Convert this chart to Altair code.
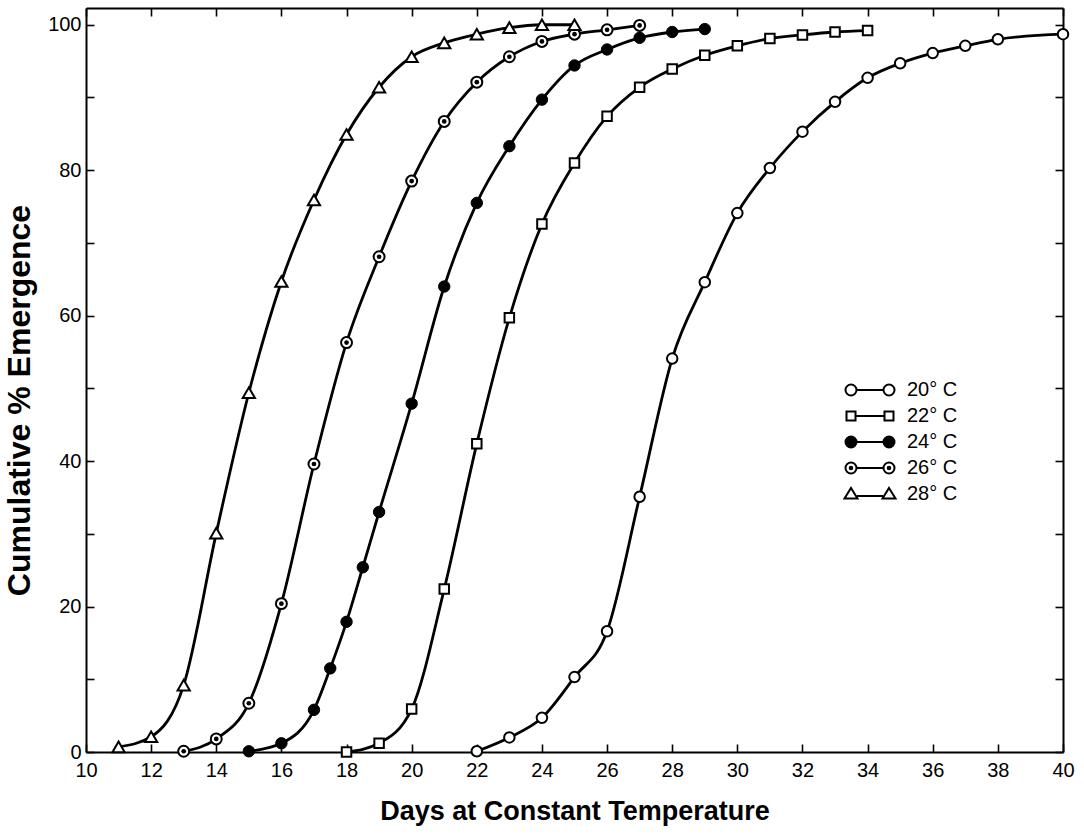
import altair as alt
import pandas as pd

# ---------------- data ----------------
SERIES = ["20° C", "22° C", "24° C", "26° C", "28° C"]

DAYS_20 = [22, 23, 24, 25, 26, 27, 28, 29, 30, 31, 32, 33, 34, 35, 36, 37, 38, 40]
PCT_20 = [0.1, 2.0, 4.7, 10.3, 16.6, 35.1, 54.1, 64.6, 74.1, 80.3, 85.3, 89.4, 92.7, 94.7, 96.1, 97.1, 98.0, 98.7]

DAYS_22 = [18, 19, 20, 21, 22, 23, 24, 25, 26, 27, 28, 29, 30, 31, 32, 33, 34]
PCT_22 = [0.0, 1.2, 5.9, 22.4, 42.4, 59.7, 72.6, 81.0, 87.4, 91.4, 93.9, 95.8, 97.1, 98.1, 98.6, 99.0, 99.2]

DAYS_24 = [15, 16, 17, 17.5, 18, 18.5, 19, 20, 21, 22, 23, 24, 25, 26, 27, 28, 29]
PCT_24 = [0.1, 1.2, 5.8, 11.5, 17.9, 25.4, 33.0, 47.9, 64.0, 75.5, 83.3, 89.7, 94.4, 96.6, 98.2, 99.0, 99.4]

DAYS_26 = [13, 14, 15, 16, 17, 18, 19, 20, 21, 22, 23, 24, 25, 26, 27]
PCT_26 = [0.1, 1.8, 6.7, 20.4, 39.6, 56.3, 68.1, 78.5, 86.7, 92.1, 95.6, 97.7, 98.7, 99.3, 99.9]

DAYS_28 = [11, 12, 13, 14, 15, 16, 17, 18, 19, 20, 21, 22, 23, 24, 25]
PCT_28 = [0.7, 2.1, 9.2, 30.1, 49.4, 64.7, 75.9, 84.9, 91.4, 95.6, 97.5, 98.7, 99.6, 100.0, 100.0]

X_TICKS = [10, 12, 14, 16, 18, 20, 22, 24, 26, 28, 30, 32, 34, 36, 38, 40]
Y_LABELS = [0, 20, 40, 60, 80, 100]
Y_TICKS = [0, 10, 20, 30, 40, 50, 60, 70, 80, 90, 100]

rows = []
for name, days, pct in zip(SERIES, [DAYS_20, DAYS_22, DAYS_24, DAYS_26, DAYS_28],
                           [PCT_20, PCT_22, PCT_24, PCT_26, PCT_28]):
    for d, p in zip(days, pct):
        rows.append({"series": name, "day": d, "pct": p})
df = pd.DataFrame(rows)

# ---------------- layout / style ----------------
W, H = 977, 744
XDOM = [10, 40]
YDOM = [0, 102.3]
FONT = "Liberation Sans"

xs = alt.Scale(domain=XDOM, nice=False, zero=False)
ys = alt.Scale(domain=YDOM, nice=False, zero=False)


def X(axis):
    return alt.X("day:Q", scale=xs, axis=axis)


def Y(axis):
    return alt.Y("pct:Q", scale=ys, axis=axis)


tick_style = dict(ticks=True, tickSize=8, tickWidth=1.6, tickColor="black",
                  labels=False, grid=False, title=None)

axis_x_main = alt.Axis(orient="bottom", values=X_TICKS, ticks=False, grid=False,
                       domain=True, domainColor="black", domainWidth=2,
                       labelFont=FONT, labelFontSize=20, labelColor="black",
                       labelPadding=8, labelFlush=False, labelOverlap=False,
                       title="Days at Constant Temperature", titleFont=FONT,
                       titleFontSize=27, titleFontWeight="bold", titleColor="black",
                       titlePadding=18)
axis_y_main = alt.Axis(orient="left", values=Y_LABELS, ticks=False, grid=False,
                       domain=True, domainColor="black", domainWidth=2,
                       labelFont=FONT, labelFontSize=20, labelColor="black",
                       labelPadding=5, labelFlush=False, labelOverlap=False,
                       title="Cumulative % Emergence", titleFont=FONT,
                       titleFontSize=32, titleFontWeight="bold", titleColor="black",
                       titlePadding=11, titleY=392)

# inward ticks on the bottom edge and left edge
axis_x_in_bottom = alt.Axis(orient="top", offset=-H, values=X_TICKS, domain=False, **tick_style)
axis_y_in_left = alt.Axis(orient="right", offset=-W, values=Y_TICKS, domain=False, **tick_style)
# top and right frame with inward ticks
axis_x_top = alt.Axis(orient="bottom", offset=-H, values=X_TICKS, domain=True,
                      domainColor="black", domainWidth=2, **tick_style)
axis_y_right = alt.Axis(orient="left", offset=-W, values=Y_TICKS, domain=True,
                        domainColor="black", domainWidth=2, **tick_style)

base = alt.Chart(df)

lines = base.mark_line(interpolate="monotone", color="black", strokeWidth=2.8).encode(
    x=X(axis_x_main), y=Y(axis_y_main), detail="series:N")

frame1 = base.mark_point(opacity=0).encode(x=X(axis_x_in_bottom), y=Y(axis_y_in_left))
frame2 = base.mark_point(opacity=0).encode(x=X(axis_x_top), y=Y(axis_y_right))


def pts(series, **mk):
    return base.transform_filter(alt.datum.series == series).mark_point(**mk).encode(
        x=X(None), y=Y(None))


open_style = dict(filled=True, fill="white", stroke="black", strokeWidth=2, opacity=1)
p20 = pts(SERIES[0], shape="circle", size=110, **open_style)
p22 = pts(SERIES[1], shape="square", size=90, **open_style)
p24 = pts(SERIES[2], shape="circle", size=130, filled=True, fill="black", stroke="black",
          strokeWidth=1, opacity=1)
p26 = pts(SERIES[3], shape="circle", size=120, **open_style)
p26dot = pts(SERIES[3], shape="circle", size=22, filled=True, fill="black", opacity=1)
p28 = pts(SERIES[4], shape="triangle-up", size=150, **open_style)


# legend (line with a marker at each end)
def circ(cx, r):
    return (f"M{cx + r},0 A{r},{r} 0 1,1 {cx - r},0 A{r},{r} 0 1,1 {cx + r},0 Z ")


LINE = "M-1.3,0 L1.3,0 "
PATH_CIRCLE = circ(-1.9, 0.55) + LINE + circ(1.9, 0.55)
PATH_SQUARE = ("M-2.35,-0.45 H-1.45 V0.45 H-2.35 Z " + "M-1.45,0 L1.45,0 " +
               "M1.45,-0.45 H2.35 V0.45 H1.45 Z")
PATH_DOT = circ(-1.9, 0.55) + circ(-1.9, 0.13) + LINE + circ(1.9, 0.55) + circ(1.9, 0.13)
PATH_TRI = ("M-1.9,-0.6 L-1.25,0.45 L-2.55,0.45 Z " + "M-1.3,0.2 L1.3,0.2 " +
            "M1.9,-0.6 L2.55,0.45 L1.25,0.45 Z")
LEGEND_SHAPES = [PATH_CIRCLE, PATH_SQUARE, PATH_CIRCLE, PATH_DOT, PATH_TRI]
LEGEND_FILLS = ["white", "white", "black", "white", "white"]
LEGEND_STROKES = ["black", "black", "black", "black", "black"]

leg = alt.Legend(orient="none", legendX=773, legendY=371, title=None,
                 symbolSize=400, symbolStrokeWidth=2,
                 symbolOpacity=1, labelFont=FONT, labelFontSize=20, labelColor="black",
                 labelOffset=26, rowPadding=5, padding=0, labelBaseline="middle")

legend_layer = base.mark_point(filled=False, opacity=0, strokeWidth=2).encode(
    x=X(None), y=Y(None),
    shape=alt.Shape("series:N", scale=alt.Scale(domain=SERIES, range=LEGEND_SHAPES), legend=leg),
    fill=alt.Fill("series:N", scale=alt.Scale(domain=SERIES, range=LEGEND_FILLS), legend=leg),
    stroke=alt.Stroke("series:N", scale=alt.Scale(domain=SERIES, range=LEGEND_STROKES), legend=leg),
)

chart = alt.layer(
    legend_layer, frame1, frame2, lines, p20, p22, p24, p26, p26dot, p28
).resolve_axis(
    x="independent", y="independent"
).properties(
    width=W, height=H,
    autosize=alt.AutoSizeParams(type="none"),
    padding={"left": 86, "top": 8, "right": 21, "bottom": 86},
    background="white",
).configure_view(stroke=None)

chart.save("out.html", embed_options={"renderer": "svg", "actions": False})
